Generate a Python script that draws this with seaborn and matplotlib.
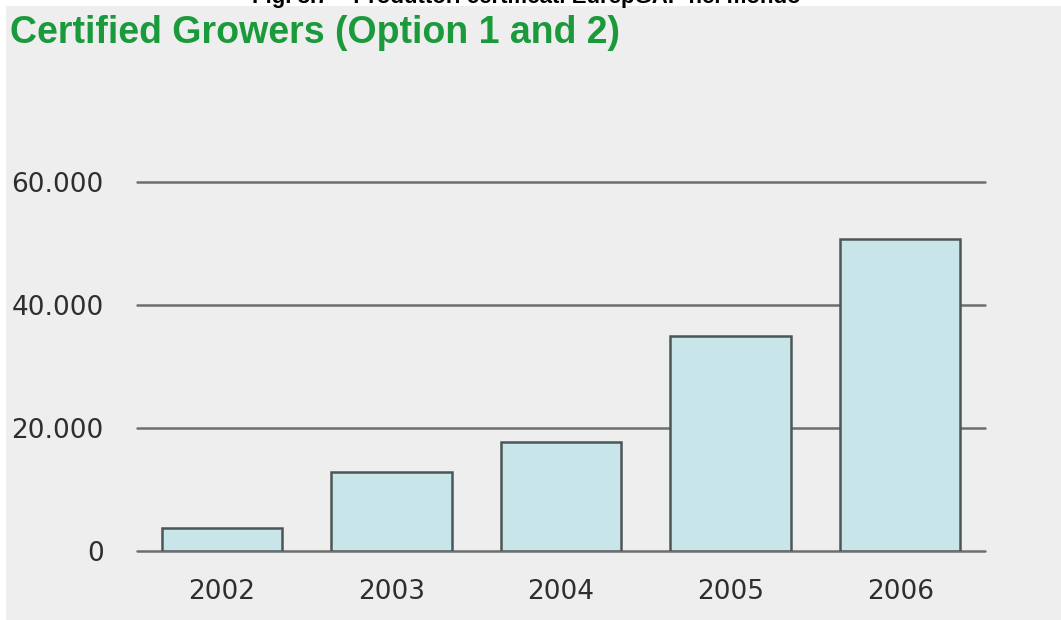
import matplotlib
matplotlib.use("Agg")
import matplotlib.pyplot as plt
import matplotlib.patches as mpatches
from matplotlib.ticker import FuncFormatter
import seaborn as sns
import pandas as pd

# values
years = ["2002", "2003", "2004", "2005", "2006"]
growers = [3800, 12800, 17700, 35000, 50800]
y_ticks = [0, 20000, 40000, 60000]

sns.set_theme(style="white")
plt.rcParams['font.family'] = ['DejaVu Sans']

W, H = 1061, 620
fig = plt.figure(figsize=(W / 100, H / 100), dpi=100)
fig.patch.set_facecolor("white")

# grey panel behind everything, white strip on top and left
bg = mpatches.Rectangle((6 / W, 0), 1, 1 - 6 / H, transform=fig.transFigure,
                        facecolor="#eeeeee", edgecolor="none", zorder=-10)
fig.patches.append(bg)

ax = fig.add_axes([137 / W, 69 / H, 848 / W, 369 / H])
ax.set_facecolor("none")

df = pd.DataFrame({"year": years, "growers": growers})
sns.barplot(data=df, x="year", y="growers", color="#c8e6ea", saturation=1,
            width=0.71, edgecolor="#4d5656", linewidth=1.8, ax=ax, zorder=3)

ax.set_xlim(-0.5, 4.5)
ax.set_ylim(0, 60000)
ax.set_yticks(y_ticks)
ax.yaxis.set_major_formatter(FuncFormatter(lambda v, p: "0" if v == 0 else f"{int(v):,}".replace(",", ".")))
for t in y_ticks:
    ax.axhline(t, color="#6e6e6e", lw=1.8, zorder=1, clip_on=False)

for s in ax.spines.values():
    s.set_visible(False)
ax.tick_params(axis="both", length=0, labelsize=19, labelcolor="#2e2e2e")
ax.tick_params(axis="y", pad=24)
ax.tick_params(axis="x", pad=20)
ax.set_xlabel("")
ax.set_ylabel("")

fig.text(10 / W, 1 - 33 / H, "Certified Growers (Option 1 and 2)", color="#1b9a3c",
         fontsize=27, fontweight="bold", family=["Liberation Sans", "DejaVu Sans"],
         ha="left", va="center")
fig.text(526 / W, 1 + 2 / H, "Fig. 3.7 \u2013 Produttori certificati EurepGAP nel mondo",
         color="black", fontsize=16, fontweight="bold",
         family=["Liberation Sans", "DejaVu Sans"], ha="center", va="center")

fig.savefig("out.png", dpi=100)
